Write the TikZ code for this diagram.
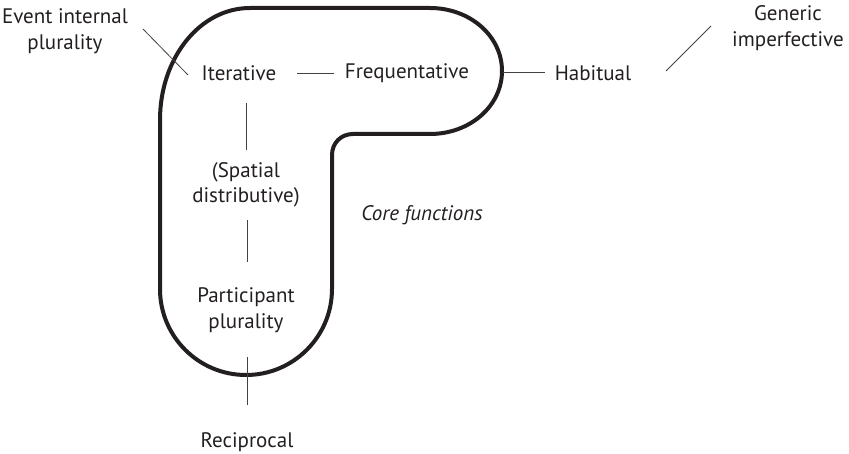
\documentclass[tikz,border=0pt]{standalone}
\usepackage{fontspec}
\setmainfont{PT Sans}
\begin{document}
\definecolor{ink}{HTML}{231F20}
\begin{tikzpicture}[x=1pt,y=-1pt,
  lbl/.style={inner sep=0pt,align=center,text=ink,font=\fontsize{21}{25.5}\selectfont},
  link/.style={draw=ink!85,line width=0.8pt},
  blob/.style={draw=ink,line width=4pt,line join=round}]
\useasboundingbox (0,0) rectangle (849,454);

% outline of the core functions
\draw[blob] (160,120)
  .. controls (160,58) and (200,8) .. (250,8)
  -- (430,8)
  .. controls (470,8) and (502,36) .. (502,71)
  .. controls (502,106) and (470,134) .. (430,134)
  -- (353,134)
  .. controls (341,134) and (332,143) .. (332,155)
  -- (332,289)
  .. controls (332,336.5) and (293.5,375) .. (246,375)
  .. controls (198.5,375) and (160,336.5) .. (160,289)
  -- cycle;

% labels
\node[lbl] (evt)  at (65,31)   {Event internal\\plurality};
\node[lbl] (iter) at (239,73)  {Iterative};
\node[lbl] (freq) at (407,73)  {Frequentative};
\node[lbl] (hab)  at (593,73)  {Habitual};
\node[lbl] (gen)  at (788,28)  {Generic\\imperfective};
\node[lbl] (spat) at (246,185) {(Spatial\\distributive)};
\node[lbl] (part) at (246,310) {Participant\\plurality};
\node[lbl,font=\fontsize{21}{25.5}\selectfont\itshape] (core) at (422,215) {Core functions};
\node[lbl] (rec)  at (247,442) {Reciprocal};

% connector end points
\coordinate (e1) at (143,29);  \coordinate (e2) at (188,75);
\coordinate (f1) at (297,73);  \coordinate (f2) at (334,73);
\coordinate (h1) at (503,72);  \coordinate (h2) at (545,72);
\coordinate (g1) at (666,71);  \coordinate (g2) at (711,26);
\coordinate (s1) at (246,103); \coordinate (s2) at (246,150);
\coordinate (p1) at (247,220); \coordinate (p2) at (247,262);
\coordinate (r1) at (247,357); \coordinate (r2) at (247,405);

% connectors
\draw[link] (e1) -- (e2);
\draw[link] (f1) -- (f2);
\draw[link] (h1) -- (h2);
\draw[link] (g1) -- (g2);
\draw[link] (s1) -- (s2);
\draw[link] (p1) -- (p2);
\draw[link] (r1) -- (r2);
\end{tikzpicture}
\end{document}
